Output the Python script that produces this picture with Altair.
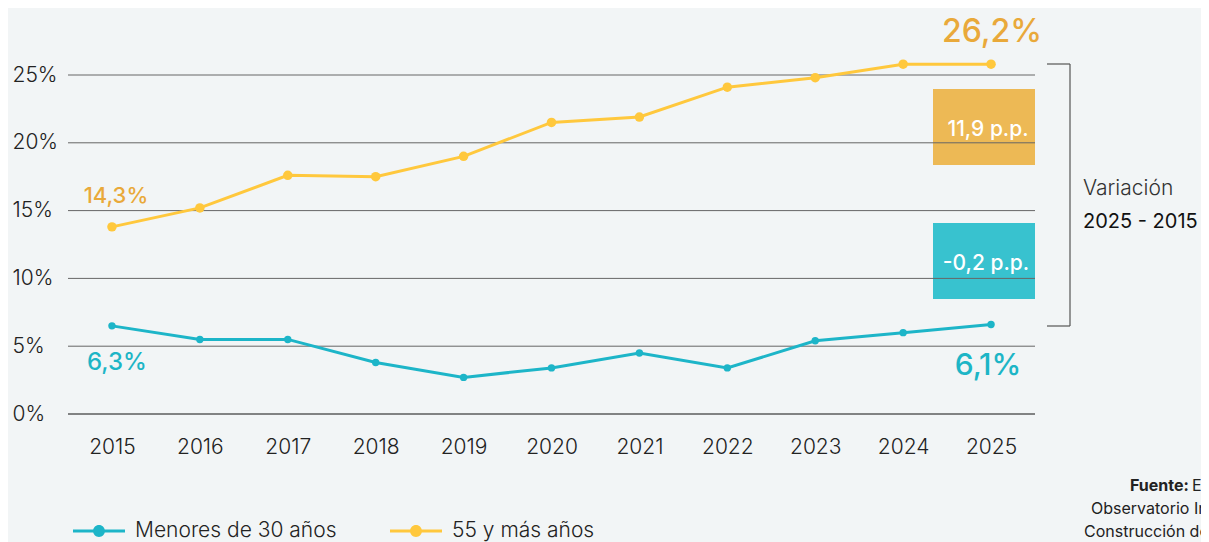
import altair as alt
import pandas as pd

years = ["2015", "2016", "2017", "2018", "2019", "2020", "2021", "2022", "2023", "2024", "2025"]
menores = [6.5, 5.5, 5.5, 3.8, 2.7, 3.4, 4.5, 3.4, 5.4, 6.0, 6.6]
mayores = [13.8, 15.2, 17.6, 17.5, 19.0, 21.5, 21.9, 24.1, 24.8, 25.8, 25.8]
series = ["Menores de 30 años", "55 y más años"]
colors = ["#1DB5C8", "#FFC83D"]
y_ticks = [0, 5, 10, 15, 20, 25]

FONT = "Inter"
ORANGE_TXT = "#E9A93A"
TEAL_TXT = "#1DB5C6"

rows = []
for i, y in enumerate(years):
    rows.append({"year": y, "serie": series[0], "value": menores[i]})
    rows.append({"year": y, "serie": series[1], "value": mayores[i]})
df = pd.DataFrame(rows)

xenc = alt.X("year:O", scale=alt.Scale(type="point", padding=0.5, domain=years),
             axis=alt.Axis(title=None, domain=False, ticks=False, tickSize=0, grid=False,
                           labelFont=FONT, labelFontSize=21, labelFontWeight=300,
                           labelColor="#222222", labelPadding=22, labelAngle=0))
yscale = alt.Scale(domain=[0, 25], nice=False, zero=True)
yenc = alt.Y("value:Q", scale=yscale,
             axis=alt.Axis(title=None, domain=False, ticks=False, tickSize=0, grid=False,
                           values=y_ticks, labelExpr="datum.value + '%'",
                           labelFont=FONT, labelFontSize=21, labelFontWeight=300,
                           labelColor="#222222", labelAlign="left", labelPadding=56,
                           labelBaseline="middle"))

sym = ("M-1,-0.06H1V0.06H-1Z "
       "M-0.23,0A0.23,0.23 0 1,1 0.23,0A0.23,0.23 0 1,1 -0.23,0Z")
legend = alt.Legend(orient="none", legendX=5, legendY=430, direction="horizontal",
                    title=None, symbolType=sym, symbolSize=2704,
                    symbolStrokeWidth=0, symbolOpacity=1,
                    labelFont=FONT, labelFontSize=21, labelFontWeight=300,
                    labelColor="#222222", labelLimit=400, labelOffset=10,
                    columnPadding=53, padding=0)
cenc = alt.Color("serie:N", scale=alt.Scale(domain=series, range=colors), legend=legend)

base = alt.Chart(df)
one = pd.DataFrame({"k": [0]})

# decorative boxes (behind gridlines)
box_o = alt.Chart(one).mark_rect(color="#EDB955").encode(
    x=alt.value(865), x2=alt.value(967), y=alt.value(14), y2=alt.value(90))
box_t = alt.Chart(one).mark_rect(color="#38C2CF").encode(
    x=alt.value(865), x2=alt.value(967), y=alt.value(148), y2=alt.value(224))

grid_df = pd.DataFrame({"value": y_ticks})
grid = alt.Chart(grid_df).mark_rule(strokeWidth=1).encode(
    y=alt.Y("value:Q", scale=yscale),
    color=alt.condition("datum.value == 0", alt.value("#111111"), alt.value("#666666")),
)

lines = base.mark_line(strokeWidth=3).encode(x=xenc, y=yenc, color=cenc)

points_t = base.transform_filter(alt.datum.serie == series[0]).mark_circle(
    opacity=1, size=55).encode(x=xenc, y=yenc, color=cenc)
points_o = base.transform_filter(alt.datum.serie == series[1]).mark_circle(
    opacity=1, size=90).encode(x=xenc, y=yenc, color=cenc)

def lab(text, year, value, dx, dy, size, color, weight=500):
    d = pd.DataFrame({"year": [year], "value": [value], "t": [text]})
    return alt.Chart(d).mark_text(dx=dx, dy=dy, fontSize=size, font=FONT, fontWeight=weight,
                                  color=color, align="center", baseline="middle").encode(
        x=alt.X("year:O", scale=alt.Scale(type="point", padding=0.5, domain=years)),
        y=alt.Y("value:Q", scale=yscale), text="t:N")

labels = [
    lab("26,2%", years[-1], mayores[-1], 1, -32, 32, ORANGE_TXT),
    lab("14,3%", years[0], mayores[0], 4, -31, 22, ORANGE_TXT),
    lab("6,3%", years[0], menores[0], 5, 37, 24, TEAL_TXT),
    lab("6,1%", years[-1], menores[-1], -3, 41, 30, TEAL_TXT),
]

def ptext(text, x, y, size, color, weight=400, align="left"):
    d = pd.DataFrame({"t": [text]})
    return alt.Chart(d).mark_text(fontSize=size, font=FONT, fontWeight=weight, color=color,
                                  align=align, baseline="middle").encode(
        x=alt.value(x), y=alt.value(y), text="t:N")

box_txt = [
    ptext("11,9 p.p.", 920, 55, 21, "white", 500, "center"),
    ptext("-0,2 p.p.", 918, 189, 21, "white", 500, "center"),
]

bracket = [
    alt.Chart(one).mark_rule(color="#555555", strokeWidth=1.2).encode(
        x=alt.value(979), x2=alt.value(1002), y=alt.value(-11)),
    alt.Chart(one).mark_rule(color="#555555", strokeWidth=1.2).encode(
        x=alt.value(1002), y=alt.value(-11), y2=alt.value(251)),
    alt.Chart(one).mark_rule(color="#555555", strokeWidth=1.2).encode(
        x=alt.value(979), x2=alt.value(1002), y=alt.value(251)),
]

side = [
    ptext("Variación", 1015, 114, 21, "#333333", 300),
    ptext("2025 - 2015", 1015, 147, 20, "#111111", 400),
    ptext("Fuente:", 1062, 411, 16, "#222222", 700),
    ptext("Elaboración propia a partir de EPA", 1124, 411, 16, "#222222", 400),
    ptext("Observatorio Industrial de la", 1023, 434, 16, "#222222", 400),
    ptext("Construcción de la Fundación Laboral", 1016, 457, 16, "#222222", 400),
]

chart = alt.layer(box_o, box_t, grid, lines, points_t, points_o, *labels, *box_txt,
                  *bracket, *side).properties(
    width=967, height=339,
    autosize=alt.AutoSizeParams(type="none"),
    padding={"left": 60, "top": 67, "right": 166, "bottom": 128},
    background="#F2F5F6",
).configure_view(stroke=None, clip=False).configure_axis(labelOverlap=False)

chart.save("out.html", embed_options={"renderer": "svg", "actions": False})
